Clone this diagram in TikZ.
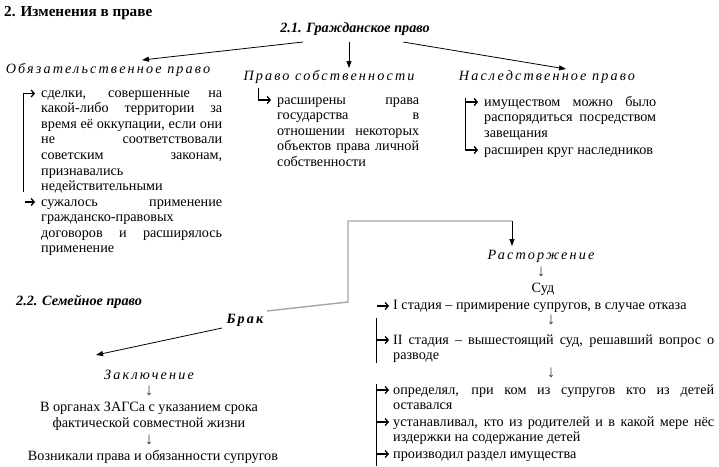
\documentclass[tikz,border=0pt]{standalone}
\usepackage{fontspec}
\setmainfont{Liberation Serif}
\usetikzlibrary{arrows.meta,calc}
\newcommand\fsz{\fontsize{14.2}{15.6}\selectfont}
\newcommand\hdfont{\fontsize{14.2}{15.6}\selectfont\itshape\addfontfeature{LetterSpace=15}}
\begin{document}
\begin{tikzpicture}[x=1pt,y=-1pt,
  every node/.style={inner sep=0pt,font=\fsz},
  hd/.style={font=\hdfont},
  body/.style={anchor=north west,align=justify,font=\fsz},
  down/.style={font=\fontsize{17}{17}\selectfont,text=black!75},
  conn/.style={draw=black,line width=0.8pt,-{Triangle[length=7pt,width=5pt]}},
  grayline/.style={draw=gray!70,line width=1.4pt},
  glyph/.style={draw=black,line width=1.3pt,-{Straight Barb[length=3pt,width=7pt]}},
  bracket/.style={draw=black,line width=0.9pt}]
\useasboundingbox[fill=white] (0,0) rectangle (719,466);
\tolerance=10000
\hbadness=10000
% titles
\node[font=\bfseries\fontsize{15.2}{16}\selectfont,anchor=west] (title) at (4,13) {2. Изменения в праве};
\node[font=\bfseries\itshape\fsz] (civ) at (355,29) {2.1. Гражданское право};
\node[hd] (obl) at (108,70) {Обязательственное право};
\node[hd] (prop) at (329,77) {Право собственности};
\node[hd] (inh) at (547,77) {Наследственное право};
% connectors from civil law
\coordinate (c1) at (303,42); \coordinate (e1) at (142,60);
\coordinate (c2) at (349,42); \coordinate (e2) at (349,68);
\coordinate (c3) at (403,42); \coordinate (e3) at (566,69);
\draw[conn] (c1) -- (e1);
\draw[conn] (c2) -- (e2);
\draw[conn] (c3) -- (e3);
% left column
\node[body,text width=181pt] (ob1) at (41,86) {\strut сделки, совершенные на\linebreak какой-либо территории за\linebreak время её оккупации, если они\linebreak не соответствовали\linebreak советским законам,\linebreak признавались\linebreak недействительными};
\node[body,text width=181pt] (ob2) at (41,195) {\strut сужалось применение\linebreak гражданско-правовых\linebreak договоров и расширялось\linebreak применение};
\draw[bracket] (23,192) -- (23,93.5);
\draw[glyph] (23,93.5) -- (35,93.5);
\draw[glyph] (25,202) -- (35,202);
% middle column
\node[body,text width=142pt] (pr1) at (277,93) {\strut расширены права\linebreak государства в\linebreak отношении некоторых\linebreak объектов права личной\linebreak собственности};
\draw[bracket] (258,88) -- (258,100);
\draw[glyph] (258,100) -- (271,100);
% right column
\node[body,text width=172pt] (in1) at (484,95) {\strut имуществом можно было\linebreak распорядиться посредством\linebreak завещания};
\node[body,text width=172pt] (in2) at (484,143) {\strut расширен круг наследников};
\draw[bracket] (465,98) -- (465,150);
\draw[glyph] (465,102) -- (478,102);
\draw[glyph] (465,150) -- (478,150);
% family law
\node[font=\bfseries\itshape\fsz,anchor=west] (fam) at (16,302) {2.2. Семейное право};
\node[font=\bfseries\hdfont] (brak) at (245,320) {Брак};
\coordinate (g1) at (267,311);
\coordinate (g2) at (348,302);
\coordinate (g3) at (348,221);
\coordinate (g4) at (512,221);
\coordinate (g5) at (512,246);
\draw[grayline] (g1) -- (g2) -- (g3) -- (g4);
\draw[conn] (g4) -- (g5);
\coordinate (b1) at (222,328); \coordinate (b2) at (96,355);
\draw[conn] (b1) -- (b2);
% marriage
\node[hd] (zak) at (149,375) {Заключение};
\node[down] (d1) at (149,391) {↓};
\node[align=center] (zags) at (149,416) {В органах ЗАГСа с указанием срока\\фактической совместной жизни};
\node[down] (d2) at (149,440) {↓};
\node (voz) at (153,457) {Возникали права и обязанности супругов};
% divorce
\node[hd] (rast) at (541,256) {Расторжение};
\node[down] (d3) at (541,272) {↓};
\node (sud) at (543,289) {Суд};
\node[body,text width=321pt] (st1) at (393,298) {\strut I стадия – примирение супругов, в случае отказа};
\draw[glyph] (377,306) -- (389,306);
\node[down] (d4) at (551,320) {↓};
\node[body,text width=321pt] (st2) at (393,333) {\strut II стадия – вышестоящий суд, решавший вопрос о\linebreak разводе};
\draw[bracket] (376,318) -- (376,363);
\draw[glyph] (376,340) -- (389,340);
\node[down] (d5) at (551,373) {↓};
\node[body,text width=321pt] (r1) at (393,383) {\strut определял, при ком из супругов кто из детей\linebreak оставался};
\node[body,text width=321pt] (r2) at (393,415) {\strut устанавливал, кто из родителей и в какой мере нёс\linebreak издержки на содержание детей};
\node[body,text width=321pt] (r3) at (393,447) {\strut производил раздел имущества};
\draw[bracket] (376,384) -- (376,466);
\draw[glyph] (376,390) -- (389,390);
\draw[glyph] (376,422) -- (389,422);
\draw[glyph] (376,454) -- (389,454);
\end{tikzpicture}
\end{document}
